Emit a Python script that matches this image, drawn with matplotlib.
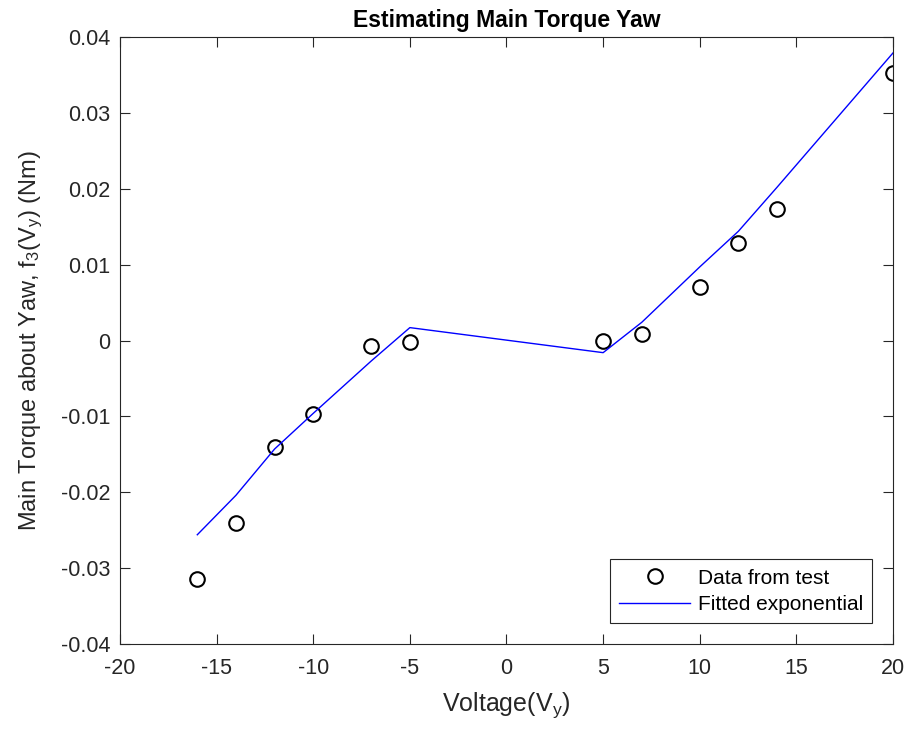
import matplotlib.pyplot as plt
import numpy as np

plt.rcParams['font.family'] = ['Liberation Sans', 'DejaVu Sans']
plt.rcParams['mathtext.fontset'] = 'custom'
plt.rcParams['mathtext.rm'] = 'Liberation Sans'
plt.rcParams['mathtext.it'] = 'Liberation Sans'
plt.rcParams['axes.unicode_minus'] = False

# test data
volts = [-16, -14, -12, -10, -7, -5, 5, 7, 10, 12, 14, 20]
torque = [-0.0314, -0.0241, -0.0140, -0.0097, -0.0007, -0.0002,
          0.0000, 0.0009, 0.0071, 0.0128, 0.0173, 0.0352]

# fitted curve
fit_torque = [-0.0256, -0.0204, -0.0143, -0.0096, -0.0027, 0.0017,
              -0.0016, 0.0024, 0.0097, 0.0144, 0.0202, 0.0379]

xticks = np.arange(-20, 21, 5)
yticks = np.arange(-0.04, 0.0401, 0.01)
ytick_labels = ['-0.04', '-0.03', '-0.02', '-0.01', '0', '0.01', '0.02', '0.03', '0.04']

fig = plt.figure(figsize=(9.09, 7.33), dpi=100)
ax = fig.add_axes([0.132, 0.1214, 0.8504, 0.8281])

dark = '#262626'
ax.plot(volts, torque, 'o', mfc='none', mec='black', ms=10.5, mew=1.5,
        label='Data from test')
ax.plot(volts, fit_torque, '-', color='blue', lw=1.0, label='Fitted exponential')

ax.set_xlim(-20, 20)
ax.set_ylim(-0.04, 0.04)
ax.set_xticks(xticks)
ax.set_yticks(yticks)
ax.set_yticklabels(ytick_labels)

ax.tick_params(direction='in', top=True, right=True, length=7, width=0.8,
               colors=dark, labelsize=15.5)
ax.tick_params(axis='x', pad=10)
ax.tick_params(axis='y', pad=7)
for s in ax.spines.values():
    s.set_color(dark)
    s.set_linewidth(0.8)

ax.set_title('Estimating Main Torque Yaw', fontsize=16.5, fontweight='bold', pad=7)
ax.set_xlabel(r'Voltage(V$_\mathregular{y}$)', fontsize=18, color=dark, labelpad=8)
ax.set_ylabel(r'Main Torque about Yaw, f$_\mathregular{3}$(V$_\mathregular{y}$) (Nm)',
              fontsize=17, color=dark, labelpad=11)

leg = ax.legend(loc='lower right', fontsize=15, fancybox=False, framealpha=1,
                edgecolor=dark, borderaxespad=1.0, handlelength=3.4,
                handletextpad=0.35, borderpad=0.45, labelspacing=0.35)
leg.get_frame().set_linewidth(0.8)

fig.savefig('out.png', dpi=100)
